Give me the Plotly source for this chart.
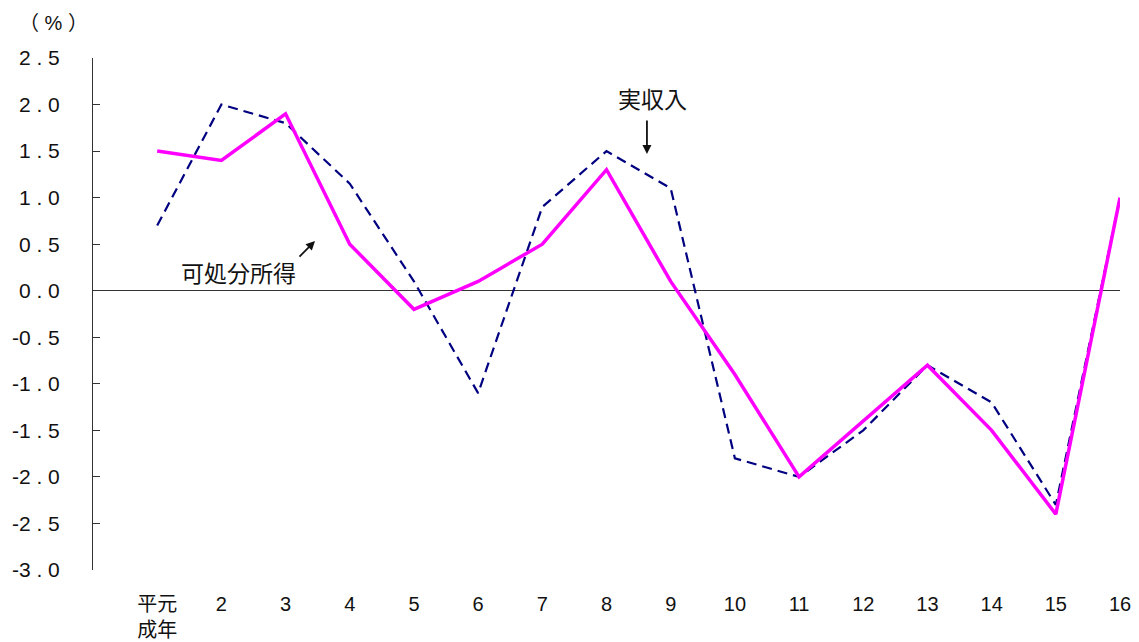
import plotly.graph_objects as go

categories = ["平元<br>成年", "2", "3", "4", "5", "6", "7", "8", "9",
              "10", "11", "12", "13", "14", "15", "16"]
jisshunyu = [0.7, 2.0, 1.8, 1.15, 0.1, -1.1, 0.9, 1.5, 1.1,
             -1.8, -2.0, -1.5, -0.8, -1.2, -2.3, 1.0]
kashobun = [1.5, 1.4, 1.9, 0.5, -0.2, 0.1, 0.5, 1.3, 0.1,
            -0.9, -2.0, -1.4, -0.8, -1.5, -2.4, 1.0]
y_ticks = [2.5, 2.0, 1.5, 1.0, 0.5, 0.0, -0.5, -1.0, -1.5, -2.0, -2.5, -3.0]

x_idx = list(range(len(categories)))


def ylabel(v):
    s = f"{v:.1f}"
    a, b = s.split(".")
    return a + " . " + b


fig = go.Figure()
fig.add_trace(go.Scatter(x=x_idx, y=jisshunyu, mode="lines", name="実収入",
                         line=dict(color="#000080", width=2.2, dash="10px,6px")))
fig.add_trace(go.Scatter(x=x_idx, y=kashobun, mode="lines", name="可処分所得",
                         line=dict(color="#FF00FF", width=3.5)))

base = "Liberation Sans, Arial, 'Noto Sans CJK JP'"
fig.update_layout(
    width=1139, height=642,
    margin=dict(l=93, r=19, t=58, b=72),
    paper_bgcolor="white", plot_bgcolor="white",
    showlegend=False,
    font=dict(family=base, size=20, color="#111111"),
    xaxis=dict(range=[-1, 15], tickmode="array", tickvals=x_idx,
               ticktext=categories, automargin=False,
               showgrid=False, zeroline=False, showline=False, ticks="",
               ticklabelstandoff=20,
               tickfont=dict(family=base, size=20, color="#111111")),
    yaxis=dict(range=[-3, 2.5], tickmode="array", tickvals=y_ticks,
               ticktext=[ylabel(v) for v in y_ticks], automargin=False,
               showgrid=False, zeroline=True, zerolinecolor="#333333", zerolinewidth=1,
               showline=True, linecolor="#333333", linewidth=1,
               ticks="inside", ticklen=7, tickcolor="#333333", tickwidth=1,
               ticklabelstandoff=28,
               tickfont=dict(family="Liberation Sans, Arial", size=21, color="#111111")),
)

cjk = "Noto Sans CJK JP"
fig.add_annotation(x=2.459, y=0.534, ax=-17, ay=17, showarrow=True,
                   arrowhead=2, arrowsize=1, arrowwidth=1.8, arrowcolor="#111111", text="")
fig.add_annotation(x=1.259, y=0.201, text="可処分所得", showarrow=False,
                   font=dict(family=cjk, size=23, color="#111111"))
fig.add_annotation(x=7.63, y=1.469, ax=0, ay=-35, showarrow=True,
                   arrowhead=2, arrowsize=1, arrowwidth=1.8, arrowcolor="#111111", text="")
fig.add_annotation(x=7.724, y=2.07, text="実収入", showarrow=False,
                   font=dict(family=cjk, size=23, color="#111111"))
fig.add_annotation(xref="paper", yref="paper", x=(53 - 93) / 1027, y=(570 - 23) / 512,
                   xanchor="center", yanchor="middle", text="（ % ）",
                   showarrow=False, font=dict(family=base, size=20, color="#111111"))

fig.write_html("out.html")
